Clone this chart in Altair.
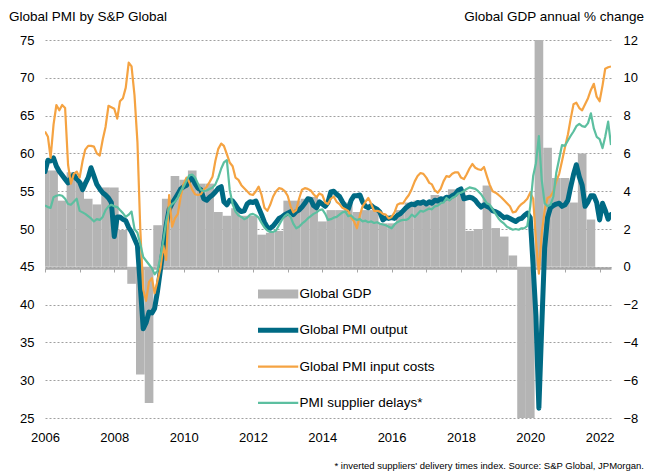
import altair as alt
import pandas as pd

# ---------------- data ----------------
# Monthly, Jan 2006 - May 2022
pmi_output = [
    57.6, 59.1, 59.0, 59.4, 58.3, 57.6, 57.1, 56.6, 56.1, 56.7, 57.2, 56.6,   # 2006
    56.2, 55.2, 56.0, 56.8, 58.1, 57.0, 55.9, 55.3, 54.8, 54.5, 54.1, 53.5,   # 2007
    49.0, 51.6, 51.6, 51.3, 51.1, 50.2, 49.6, 48.7, 47.8, 42.5, 36.8, 37.6,   # 2008
    39.0, 38.9, 39.5, 41.8, 44.6, 47.6, 50.5, 52.6, 53.4, 54.0, 54.6, 55.3,   # 2009
    55.6, 55.8, 56.4, 56.8, 56.0, 55.4, 55.2, 54.0, 53.8, 54.2, 54.5, 54.9,   # 2010
    55.4, 55.6, 53.6, 53.2, 53.8, 53.7, 53.2, 52.6, 52.3, 52.4, 53.3, 53.6,   # 2011
    53.5, 53.7, 52.8, 51.9, 50.9, 50.2, 50.1, 50.4, 50.9, 51.4, 51.6, 51.9,   # 2012
    52.1, 52.3, 51.9, 52.3, 52.5, 52.9, 53.4, 54.0, 53.9, 53.1, 52.8, 53.6,   # 2013
    53.3, 53.0, 53.5, 54.9, 55.0, 54.6, 54.3, 53.6, 53.0, 52.6, 53.8, 54.4,   # 2014
    54.4, 54.5, 53.6, 53.0, 52.8, 53.1, 52.8, 52.6, 52.2, 51.2, 51.5, 51.4,   # 2015
    51.5, 51.4, 51.8, 52.0, 52.4, 52.8, 53.1, 53.3, 53.2, 53.5, 53.4, 53.6,   # 2016
    53.3, 53.6, 53.4, 53.8, 53.7, 54.0, 53.9, 54.2, 54.1, 54.4, 54.6, 55.1,   # 2017
    55.3, 54.0, 54.1, 54.2, 54.1, 53.8, 53.3, 52.9, 53.2, 53.0, 52.8, 52.4,   # 2018
    52.3, 52.1, 51.8, 51.5, 51.6, 51.4, 51.2, 51.0, 51.3, 51.4, 51.8, 52.1,   # 2019
    51.5, 45.0, 38.5, 26.3, 37.0, 47.5, 51.5, 52.8, 53.1, 53.3, 53.4, 53.0,   # 2020
    53.2, 53.8, 55.5, 57.2, 58.5, 56.9, 55.8, 53.0, 53.6, 54.4, 54.4, 53.5,   # 2021
    51.2, 53.4, 52.5, 51.3, 51.9,                                             # 2022
]
pmi_input_costs = [
    62.9, 62.2, 59.4, 63.8, 66.4, 65.7, 66.4, 66.0, 58.5, 56.0, 57.3, 57.6,   # 2006
    56.8, 59.0, 60.5, 61.0, 61.0, 60.9, 60.0, 59.7, 61.8, 63.5, 66.3, 66.1,   # 2007
    65.9, 64.6, 66.9, 67.3, 68.7, 72.0, 71.5, 67.7, 61.5, 50.0, 42.0, 40.5,   # 2008
    43.0, 43.5, 41.5, 43.2, 44.8, 47.8, 45.9, 54.5, 50.3, 51.4, 52.0, 54.3,   # 2009
    56.0, 56.8, 56.2, 55.2, 54.6, 54.5, 54.6, 55.2, 55.6, 56.2, 56.9, 59.0,   # 2010
    60.6, 61.3, 61.0, 59.9, 58.8, 58.3, 56.8, 56.5, 55.8, 55.4, 55.0, 54.6,   # 2011
    54.5, 55.0, 55.6, 54.5, 52.8, 52.4, 53.2, 54.3, 55.0, 55.4, 55.3, 55.0,   # 2012
    54.4, 53.0, 52.2, 52.5, 54.0, 55.2, 55.4, 55.3, 55.1, 54.6, 54.2, 54.7,   # 2013
    54.5, 53.5, 53.3, 54.0, 54.3, 53.6, 53.3, 52.8, 52.6, 52.4, 51.5, 51.0,   # 2014
    50.1, 51.8, 53.0, 53.6, 54.1, 53.3, 52.4, 52.4, 52.3, 52.0, 51.9, 51.4,   # 2015
    51.6, 52.2, 53.2, 53.4, 53.4, 54.0, 54.5, 55.3, 56.3, 57.0, 57.4, 57.3,   # 2016
    56.8, 56.1, 55.9, 55.1, 54.8, 55.3, 56.3, 57.0, 56.9, 57.3, 57.5, 57.5,   # 2017
    56.8, 56.6, 57.2, 58.0, 58.6, 58.1, 57.9, 57.8, 58.2, 57.0, 55.8, 55.0,   # 2018
    54.8, 54.5, 54.2, 53.8, 53.4, 53.0, 52.2, 52.3, 52.9, 53.3, 53.6, 54.0,   # 2019
    54.8, 54.0, 48.5, 44.1, 49.4, 52.5, 54.1, 54.3, 55.0, 56.3, 57.3, 59.0,   # 2020
    60.8, 62.5, 64.5, 66.5, 66.7, 66.0, 65.7, 66.5, 67.3, 68.4, 69.2, 67.5,   # 2021
    66.9, 69.0, 71.2, 71.4, 71.5,                                             # 2022
]
pmi_supplier_delays = [
    53.1, 52.9, 52.8, 54.2, 54.4, 54.5, 54.4, 54.0, 53.3, 53.2, 53.6, 54.0,   # 2006
    52.4, 52.2, 52.0, 51.7, 51.4, 51.0, 51.3, 51.2, 51.6, 52.5, 53.0, 53.2,   # 2007
    53.0, 52.9, 52.5, 52.1, 51.6, 51.9, 52.3, 50.0, 49.5, 48.0, 46.3, 45.8,   # 2008
    45.3, 44.8, 44.0, 44.5, 46.3, 48.5, 51.0, 52.8, 53.3, 53.6, 54.2, 55.0,   # 2009
    55.6, 56.4, 57.1, 57.2, 56.8, 56.0, 55.2, 55.0, 55.1, 55.3, 55.5, 55.9,   # 2010
    56.8, 58.0, 58.8, 59.1, 55.2, 53.3, 52.3, 51.8, 51.6, 51.3, 51.5, 51.9,   # 2011
    52.0, 51.8, 51.5, 50.8, 50.2, 49.8, 49.6, 49.6, 49.8, 50.5, 51.2, 51.7,   # 2012
    52.0, 51.6, 50.7, 50.1, 50.3, 50.7, 51.0, 51.4, 51.7, 52.0, 52.2, 52.5,   # 2013
    52.6, 52.0, 51.2, 51.3, 51.5, 51.6, 51.9, 52.2, 52.3, 51.7, 51.8, 51.4,   # 2014
    51.2, 51.3, 51.0, 51.1, 50.9, 51.0, 50.8, 50.9, 50.7, 50.6, 50.5, 50.3,   # 2015
    50.1, 50.6, 50.9, 51.1, 51.2, 51.2, 51.4, 51.9, 51.6, 52.0, 52.4, 52.3,   # 2016
    52.5, 52.7, 52.6, 53.0, 53.1, 53.4, 53.5, 54.1, 53.8, 54.1, 54.3, 54.7,   # 2017
    54.8, 55.0, 55.3, 55.5, 55.4, 55.3, 55.0, 54.6, 54.0, 53.4, 53.2, 52.6,   # 2018
    52.0, 51.4, 51.0, 50.7, 50.3, 50.1, 49.9, 50.0, 49.9, 50.1, 50.1, 50.4,   # 2019
    53.0, 57.0, 58.7, 62.3, 56.5, 53.4, 53.0, 53.2, 54.3, 57.4, 59.3, 61.1,   # 2020
    61.0, 61.7, 62.3, 62.9, 63.6, 63.9, 63.6, 63.5, 64.0, 65.3, 63.3, 62.2,   # 2021
    61.9, 60.7, 62.2, 64.2, 61.1,                                             # 2022
]
# Quarterly global GDP (% change, right axis), bars centred on each quarter date
gdp = [
    5.1, 5.1, 3.5, 5.0, 4.5, 3.6, 3.3, 4.2, 4.2, 1.95,
    -0.9, -5.7, -7.2, 2.2, 3.6, 4.8, 4.6, 5.1, 4.4, 4.4,
    2.9, 2.7, 3.1, 2.7, 2.7, 1.7, 1.8, 1.9, 3.5, 3.5,
    3.6, 3.7, 2.4, 3.0, 3.0, 3.4, 2.9, 3.0, 3.0, 2.3,
    2.3, 3.0, 3.4, 3.5, 3.4, 3.8, 3.7, 4.1, 4.1, 1.9,
    2.0, 4.3, 2.05, 1.6, 0.6, -9.5, -30.0, 32.0, 6.3, 4.7,
    4.7, 3.4, 6.0, 2.5,
]

series_names = ["Global GDP", "Global PMI output", "Global PMI input costs", "PMI supplier delays*"]
series_colors = ["#b4b4b4", "#006a84", "#f5a342", "#5cbfa0"]

left_ticks = list(range(25, 80, 5))
right_ticks = list(range(-8, 14, 2))
label_years = list(range(2006, 2024, 2))
tick_years = list(range(2006, 2023))

# ---------------- tables ----------------
months = pd.date_range("2006-01-01", periods=len(pmi_output), freq="MS")
quarters = pd.date_range("2006-01-01", periods=len(gdp), freq="QS")

gdp_df = pd.DataFrame({
    "start": quarters - pd.Timedelta(days=45),
    "end": quarters + pd.Timedelta(days=46),
    "gdp": gdp,
    "series": series_names[0],
})


def line_df(values, name):
    return pd.DataFrame({"date": months, "value": values, "series": name})


FONT = "Liberation Sans"
x_scale = alt.Scale(domain=[alt.DateTime(year=2006, month=1, date=1),
                            alt.DateTime(year=2022, month=5, date=1)])
color_scale = alt.Scale(domain=series_names, range=series_colors)

# legend symbols: a wide grey block for GDP, long strokes for the PMI lines
legend = alt.Legend(
    orient="none", legendX=213, legendY=237, title=None, padding=0,
    clipHeight=34, rowPadding=2.3, labelFontSize=13.5, labelFont=FONT,
    labelColor="#000", labelOffset=28,
    symbolType={"expr": "datum.value === 'Global GDP' ? 'M-1.5,-0.9H6.7V0.9H-1.5Z' : 'M-1.5,0H6.7'"},
    symbolStrokeWidth={"expr": "datum.value === 'Global GDP' ? 0 : (datum.value === 'Global PMI output' ? 5 : 2.2)"},
    symbolOpacity=1,
)

color_enc = alt.Color("series:N", scale=color_scale, legend=legend)

# ---------------- GDP bars (right axis) ----------------
bars = alt.Chart(gdp_df).mark_bar(clip=True).encode(
    x=alt.X("start:T", scale=x_scale, title=None,
            axis=alt.Axis(orient="bottom",
                          values=[alt.DateTime(year=y, month=1, date=1) for y in tick_years],
                          labels=False, ticks=True, tickSize=4, tickColor="#a6a6a6",
                          domain=True, domainColor="#a6a6a6", domainWidth=2.5,
                          grid=False, offset=-150, title=None)),
    x2="end:T",
    y=alt.Y("gdp:Q", scale=alt.Scale(domain=[-8, 12], nice=False),
            axis=alt.Axis(orient="right", values=right_ticks, grid=False, ticks=False,
                          domain=False, labelPadding=12, labelAlign="left",
                          labelFontSize=13, labelFont=FONT, labelColor="#000", title=None)),
    y2=alt.datum(0),
    color=color_enc,
)

# ---------------- PMI lines (left axis) ----------------
x_lines = alt.X("date:T", scale=x_scale, title=None,
                axis=alt.Axis(orient="bottom",
                              values=[alt.DateTime(year=y, month=1, date=1) for y in label_years],
                              format="%Y", ticks=False, tickSize=0, domain=False, grid=False,
                              labelFlush=False, labelOverlap=False,
                              labelPadding=13, labelFontSize=13, labelFont=FONT,
                              labelColor="#000", title=None))
y_lines = alt.Y("value:Q", scale=alt.Scale(domain=[25, 75], nice=False),
                axis=alt.Axis(orient="left", values=left_ticks, grid=True, gridDash=[2, 2],
                              gridColor="#a0a0a0", gridWidth=1, ticks=False, domain=False,
                              labelPadding=11, labelFontSize=13, labelFont=FONT,
                              labelColor="#000", title=None))


def line_layer(values, name, width, cap):
    return alt.Chart(line_df(values, name)).mark_line(
        strokeWidth=width, strokeCap=cap, strokeJoin="round", clip=True
    ).encode(x=x_lines, y=y_lines, color=color_enc)


lines = alt.layer(
    line_layer(pmi_output, series_names[1], 5, "round"),
    line_layer(pmi_input_costs, series_names[2], 2.2, "butt"),
    line_layer(pmi_supplier_delays, series_names[3], 2.2, "butt"),
)

# ---------------- texts ----------------
def text_layer(txt, x, y, align, size):
    return alt.Chart(pd.DataFrame({"t": [txt]})).mark_text(
        align=align, baseline="middle", fontSize=size, font=FONT, color="#000"
    ).encode(x=alt.value(x), y=alt.value(y), text="t:N")


sub_left = text_layer("Global PMI by S&P Global", -36, -23, "left", 13.5)
sub_right = text_layer("Global GDP annual % change", 599, -23, "right", 13.5)
footnote = text_layer("* inverted suppliers' delivery times index. Source: S&P Global, JPMorgan.",
                      599, 426, "right", 9.5)

chart = alt.layer(bars, lines, sub_left, sub_right, footnote).resolve_scale(
    y="independent"
).resolve_axis(
    x="independent", y="independent"
).properties(
    width=566, height=378,
    autosize=alt.AutoSizeParams(type="none"),
    padding={"left": 37, "top": 32, "right": 34, "bottom": 53},
    background="white",
).configure_view(stroke=None)

chart.save("out.html", embed_options={"renderer": "svg", "actions": False})
